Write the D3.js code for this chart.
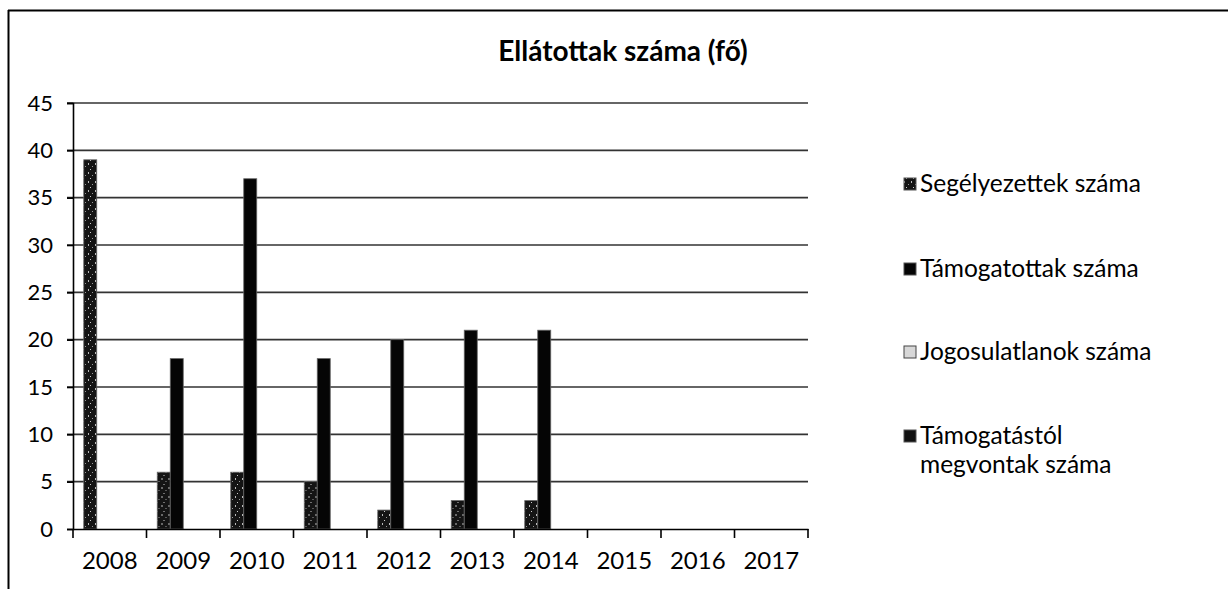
<!DOCTYPE html>
<html>
<head>
<meta charset="utf-8">
<script src="https://cdn.jsdelivr.net/npm/d3@7"></script>
<style>
  html, body { margin: 0; padding: 0; background: #fff; }
  svg { display: block; font-family: Lato, "Open Sans", sans-serif; }
</style>
</head>
<body>
<svg id="chart" width="1228" height="589"></svg>
<script>
const years = ["2008","2009","2010","2011","2012","2013","2014","2015","2016","2017"];
const seriesNames = ["Segélyezettek száma","Támogatottak száma","Jogosulatlanok száma","Támogatástól megvontak száma"];
const segelyezettek = [39, 6, 6, 5, 2, 3, 3, 0, 0, 0];
const tamogatottak  = [0, 18, 37, 18, 20, 21, 21, 0, 0, 0];
const jogosulatlanok = [0, 0, 0, 0, 0, 0, 0, 0, 0, 0];
const megvontak      = [0, 0, 0, 0, 0, 0, 0, 0, 0, 0];
const yTicks = [0, 5, 10, 15, 20, 25, 30, 35, 40, 45];
const titleText = "Ellátottak száma (fő)";

const seriesValues = [segelyezettek, tamogatottak, jogosulatlanok, megvontak];
const colors = ["#2a2a2a", "#050505", "#d8d8d8", "#111111"];

const svg = d3.select("#chart");

// chart border (top & left visible in scan)
svg.append("line").attr("x1", 8).attr("x2", 1228).attr("y1", 10.5).attr("y2", 10.5)
  .attr("stroke", "#000").attr("stroke-width", 2);
svg.append("line").attr("x1", 8.5).attr("x2", 8.5).attr("y1", 10).attr("y2", 589)
  .attr("stroke", "#000").attr("stroke-width", 2);

const pLeft = 73, pRight = 808, pTop = 103, pBottom = 529;

const x = d3.scaleBand().domain(years).range([pLeft, pRight]).paddingInner(0).paddingOuter(0);
const gapFrac = 21.5 / 73.5;
const xs2 = d3.scaleBand().domain(d3.range(4))
  .range([x.bandwidth() * gapFrac / 2, x.bandwidth() * (1 - gapFrac / 2)]);

const y = d3.scaleLinear().domain([0, 45]).range([pBottom, pTop]);

// pattern for speckled dark series (scan texture)
const defs = svg.append("defs");
const pat = defs.append("pattern").attr("id", "speck").attr("patternUnits", "userSpaceOnUse")
  .attr("width", 7).attr("height", 9);
pat.append("rect").attr("width", 7).attr("height", 9).attr("fill", "#141414");
pat.append("rect").attr("x", 1).attr("y", 1).attr("width", 1).attr("height", 2).attr("fill", "#bbb");
pat.append("rect").attr("x", 5).attr("y", 4).attr("width", 1).attr("height", 1).attr("fill", "#999");
pat.append("rect").attr("x", 3).attr("y", 7).attr("width", 1).attr("height", 1).attr("fill", "#ccc");

// gridlines
svg.append("g").selectAll("line").data(yTicks.filter(d => d > 0)).join("line")
  .attr("x1", pLeft - 6).attr("x2", pRight)
  .attr("y1", d => y(d)).attr("y2", d => y(d))
  .attr("stroke", "#333").attr("stroke-width", 1.6);

// y axis
const yAxis = d3.axisLeft(y).tickValues(yTicks).tickSize(6).tickPadding(14);
const gy = svg.append("g").attr("transform", `translate(${pLeft},0)`).call(yAxis);
gy.select(".domain").attr("stroke", "#000").attr("stroke-width", 1.6);
gy.selectAll(".tick line").attr("stroke", "#000").attr("stroke-width", 1.6);
gy.selectAll(".tick text").attr("font-size", 22).attr("fill", "#000")
  .attr("font-family", "Lato, sans-serif");

// bars
const groups = svg.append("g").selectAll("g").data(years).join("g")
  .attr("transform", d => `translate(${x(d)},0)`);
groups.selectAll("rect").data((yr, i) => seriesValues.map((arr, s) => ({ s, v: arr[i] })))
  .join("rect")
  .attr("x", d => xs2(d.s))
  .attr("width", xs2.bandwidth())
  .attr("y", d => y(d.v))
  .attr("height", d => y(0) - y(d.v))
  .attr("fill", d => d.s === 0 ? "url(#speck)" : colors[d.s])
  .attr("stroke", d => d.v > 0 ? "#666" : "none")
  .attr("stroke-width", 0.8);

// x axis
const xAxis = d3.axisBottom(x).tickSize(0).tickPadding(23);
const gx = svg.append("g").attr("transform", `translate(0,${pBottom})`).call(xAxis);
gx.select(".domain").attr("stroke", "#000").attr("stroke-width", 1.6);
gx.selectAll(".tick text").attr("font-size", 24).attr("fill", "#000")
  .attr("font-family", "Lato, sans-serif");
// category boundary tick marks
const boundaries = years.map(d => x(d)).concat([x(years[years.length - 1]) + x.bandwidth()]);
svg.append("g").selectAll("line").data(boundaries).join("line")
  .attr("x1", d => d).attr("x2", d => d)
  .attr("y1", pBottom).attr("y2", pBottom + 9)
  .attr("stroke", "#000").attr("stroke-width", 1.6);

// title
svg.append("text").attr("x", 623).attr("y", 61).attr("text-anchor", "middle")
  .attr("font-size", 28).attr("font-weight", "bold").attr("fill", "#000")
  .attr("font-family", "Lato, sans-serif")
  .text(titleText);

// legend
const legendRows = [
  { lines: ["Segélyezettek száma"], y: 184 },
  { lines: ["Támogatottak száma"], y: 269 },
  { lines: ["Jogosulatlanok száma"], y: 352 },
  { lines: ["Támogatástól", "megvontak száma"], y: 436 }
];
const lg = svg.append("g");
legendRows.forEach((r, i) => {
  lg.append("rect").attr("x", 904).attr("y", r.y - 6).attr("width", 12).attr("height", 12)
    .attr("fill", i === 0 ? "url(#speck)" : colors[i])
    .attr("stroke", i === 2 ? "#444" : "#555").attr("stroke-width", 1);
  const t = lg.append("text").attr("x", 920).attr("y", r.y + 8)
    .attr("font-size", 24.5).attr("fill", "#000").attr("font-family", "Lato, sans-serif");
  r.lines.forEach((ln, j) => {
    t.append("tspan").attr("x", 920).attr("dy", j === 0 ? 0 : 29).text(ln);
  });
});
</script>
</body>
</html>
